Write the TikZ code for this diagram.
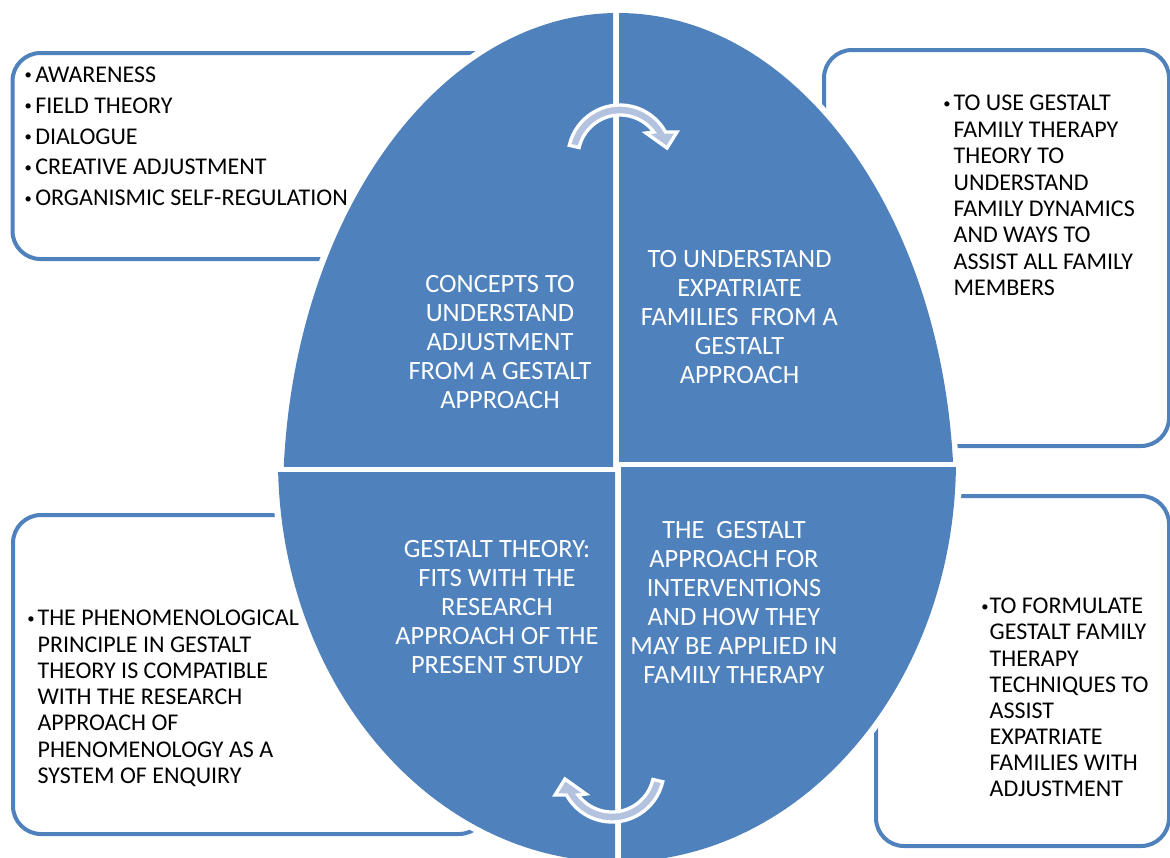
\documentclass[tikz,border=0pt]{standalone}
\usepackage{fontspec}
\setmainfont{Carlito}
\definecolor{gblue}{HTML}{4F81BD}
\definecolor{glight}{HTML}{B3C3DF}
\newcommand{\bul}[1]{\makebox[#1][c]{\raisebox{2pt}{\fontsize{11pt}{11pt}\selectfont\textbullet}}}
\begin{document}
\begin{tikzpicture}[x=0.75pt,y=-0.75pt,
  box/.style={draw=gblue, line width=3pt, fill=white, rounded corners=21pt, anchor=north west, inner sep=0pt},
  boxtext/.style={anchor=north west, inner sep=0pt, align=left},
  ctext/.style={anchor=north, inner sep=0pt, align=center, text=white, font=\fontsize{19.8pt}{21.75pt}\selectfont},
  quad/.style={fill=gblue},
  halo/.style={draw=white, line width=9.75pt},
  arrowsty/.style={fill=glight, draw=white, line width=2.5pt, line join=miter}]
\useasboundingbox[fill=white] (0,0) rectangle (1170,857);

% outer boxes
\node (tlbox) [box, minimum width=412.1pt, minimum height=154.5pt] at (10.5,51) {};
\node (trbox) [box, minimum width=258.75pt, minimum height=297pt] at (822,48) {};
\node (brbox) [box, minimum width=219.75pt, minimum height=262.5pt] at (874,494) {};
\node (blbox) [box, minimum width=355.5pt, minimum height=239.25pt] at (11,513) {};

% white halo round the ellipse
\begin{scope}
  \clip (0,0) rectangle (1170,469);
  \draw[halo] (618,500) ellipse [x radius=335, y radius=487];
\end{scope}
\begin{scope}
  \clip (0,469) rectangle (1170,857);
  \draw[halo] (617,460) ellipse [x radius=339, y radius=402];
\end{scope}

% four quadrants
\begin{scope}
  \clip (0,0) rectangle (613,466);
  \fill[quad] (618,500) ellipse [x radius=335, y radius=487];
\end{scope}
\begin{scope}
  \clip (619,0) rectangle (1170,461);
  \fill[quad] (618,500) ellipse [x radius=336, y radius=487];
\end{scope}
\begin{scope}
  \clip (0,472) rectangle (615,857);
  \fill[quad] (617,460) ellipse [x radius=339, y radius=402];
\end{scope}
\begin{scope}
  \clip (621,467) rectangle (1170,857);
  \fill[quad] (617,460) ellipse [x radius=339, y radius=402];
\end{scope}

% circular arrows
\path[arrowsty] (569.3,145.3) arc[start angle=193, end angle=331.3, radius=52]
  -- (677,132) -- (667,148) -- (646,133) -- (653.8,132)
  arc[start angle=323.5, end angle=193, radius=42] -- cycle;
\begin{scope}[rotate around={180:(616,463.5)}]
\path[arrowsty] (569.3,145.3) arc[start angle=193, end angle=331.3, radius=52]
  -- (677,132) -- (667,148) -- (646,133) -- (653.8,132)
  arc[start angle=323.5, end angle=193, radius=42] -- cycle;
\end{scope}

% texts in the quadrants
\node (ul) [ctext] at (500,275.4) {CONCEPTS TO\\UNDERSTAND\\ADJUSTMENT\\FROM A GESTALT\\APPROACH};
\node (ur) [ctext] at (739.5,250.4) {TO UNDERSTAND\\EXPATRIATE\\FAMILIES~ FROM A\\GESTALT\\APPROACH};
\node (ll) [ctext] at (497,540.4) {GESTALT THEORY:\\FITS WITH THE\\RESEARCH\\APPROACH OF THE\\PRESENT STUDY};
\node (lr) [ctext] at (734,521.4) {THE~ GESTALT\\APPROACH FOR\\INTERVENTIONS\\AND HOW THEY\\MAY BE APPLIED IN\\FAMILY THERAPY};

% texts in the boxes
\node (tltext) [boxtext, font=\fontsize{18pt}{23.1pt}\selectfont] at (21,66.7)
 {\bul{10.5pt}AWARENESS\\
  \bul{10.5pt}FIELD THEORY\\
  \bul{10.5pt}DIALOGUE\\
  \bul{10.5pt}CREATIVE ADJUSTMENT\\
  \bul{10.5pt}ORGANISMIC SELF-REGULATION};
\node (trtext) [boxtext, font=\fontsize{18pt}{19.8pt}\selectfont] at (940,95)
 {\bul{10pt}TO USE GESTALT\\
  \hspace*{10pt}FAMILY THERAPY\\
  \hspace*{10pt}THEORY TO\\
  \hspace*{10pt}UNDERSTAND\\
  \hspace*{10pt}FAMILY DYNAMICS\\
  \hspace*{10pt}AND WAYS TO\\
  \hspace*{10pt}ASSIST ALL FAMILY\\
  \hspace*{10pt}MEMBERS};
\node (brtext) [boxtext, font=\fontsize{18pt}{19.6pt}\selectfont] at (980,598)
 {\bul{7pt}TO FORMULATE\\
  \hspace*{7pt}GESTALT FAMILY\\
  \hspace*{7pt}THERAPY\\
  \hspace*{7pt}TECHNIQUES TO\\
  \hspace*{7pt}ASSIST\\
  \hspace*{7pt}EXPATRIATE\\
  \hspace*{7pt}FAMILIES WITH\\
  \hspace*{7pt}ADJUSTMENT};
\node (bltext) [boxtext, font=\fontsize{18pt}{19.7pt}\selectfont] at (24,610)
 {\bul{10pt}THE PHENOMENOLOGICAL\\
  \hspace*{10pt}PRINCIPLE IN GESTALT\\
  \hspace*{10pt}THEORY IS COMPATIBLE\\
  \hspace*{10pt}WITH THE RESEARCH\\
  \hspace*{10pt}APPROACH OF\\
  \hspace*{10pt}PHENOMENOLOGY AS A\\
  \hspace*{10pt}SYSTEM OF ENQUIRY};
\end{tikzpicture}
\end{document}
